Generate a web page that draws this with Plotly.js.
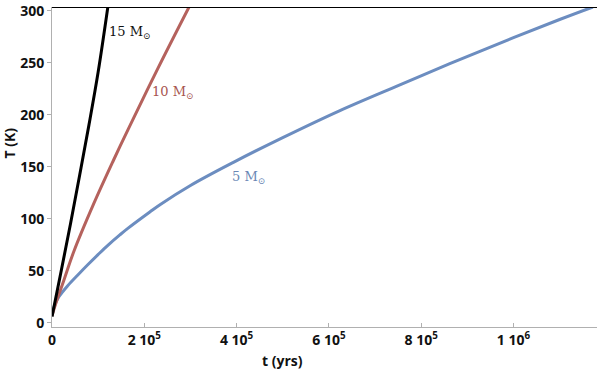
<!DOCTYPE html>
<html><head><meta charset="utf-8">
<script src="https://cdn.plot.ly/plotly-3.0.1.min.js"></script>
<style>html,body{margin:0;padding:0;background:#fff}#chart{width:600px;height:374px}</style>
</head><body><div id="chart"></div>
<script>
// 15 solar masses
const t15 = [0, 20000, 40000, 60000, 80000, 100000, 121000];
const T15 = [6, 50, 95, 142, 190, 241, 303.5];
// 10 solar masses
const t10 = [0, 10000, 25000, 47700, 90000, 133000, 165000, 230000, 297000];
const T10 = [7, 21, 40, 69, 114, 156, 186, 245, 303.5];
// 5 solar masses
const t5 = [0, 5000, 15000, 34700, 56000, 78000, 99700, 121000, 147000, 165000, 212000, 234000, 300000, 392000, 500000, 624000, 750000, 862000, 1000000, 1100000, 1172000];
const T5 = [7, 16, 25, 36, 46, 56, 65.5, 74.5, 84.5, 91, 106.5, 113.5, 132, 154, 178, 204, 228, 249, 274, 291.5, 303.5];

const xTickVals = [0, 200000, 400000, 600000, 800000, 1000000];
const xTickText = ['0', '2 10<sup>5</sup>', '4 10<sup>5</sup>', '6 10<sup>5</sup>', '8 10<sup>5</sup>', '1 10<sup>6</sup>'];
const yTickVals = [0, 50, 100, 150, 200, 250, 300];

const labels = [
  {text: '15 M<sub>⊙</sub>', t: 119000, T: 279, color: '#111111'},
  {text: '10 M<sub>⊙</sub>', t: 212000, T: 221, color: '#a85550'},
  {text: '5 M<sub>⊙</sub>', t: 386000, T: 140, color: '#6a87b5'}
];

const traces = [
  {x: t5, y: T5, mode: 'lines', line: {color: '#6c8dc0', width: 3, shape: 'spline', smoothing: 1}},
  {x: t10, y: T10, mode: 'lines', line: {color: '#b5625d', width: 3, shape: 'spline', smoothing: 1}},
  {x: t15, y: T15, mode: 'lines', line: {color: '#000000', width: 3, shape: 'spline', smoothing: 1}}
];

const tickFont = {family: 'Open Sans, sans-serif', size: 14, color: '#111', weight: 700};

const annotations = labels.map(l => ({
  x: l.t, y: l.T, xref: 'x', yref: 'y', text: l.text, showarrow: false,
  xanchor: 'left', yanchor: 'middle',
  font: {family: 'DejaVu Serif, serif', size: 13, color: l.color}
}));
annotations.push({xref: 'paper', yref: 'paper', x: 0.423, y: -0.07, text: 't (yrs)', showarrow: false,
  yanchor: 'top', font: {family: 'Open Sans, sans-serif', size: 14, color: '#111', weight: 700}});
annotations.push({xref: 'paper', yref: 'paper', x: -0.078, y: 0.575, text: 'T (K)', showarrow: false,
  textangle: -90, xanchor: 'center', yanchor: 'middle', font: {family: 'Open Sans, sans-serif', size: 14, color: '#111', weight: 700}});

const layout = {
  width: 600, height: 374,
  margin: {l: 52, r: 3, t: 7, b: 47},
  paper_bgcolor: '#fff', plot_bgcolor: '#fff',
  showlegend: false,
  xaxis: {range: [0, 1181000], tickvals: xTickVals, ticktext: xTickText, showgrid: false, zeroline: false,
    showline: true, linecolor: '#b0b0b0', linewidth: 1, ticks: 'inside', ticklen: 4, tickcolor: '#b0b0b0',
    tickfont: tickFont, ticklabelstandoff: 0},
  yaxis: {range: [-4, 303.5], tickvals: yTickVals, showgrid: false, zeroline: false,
    showline: true, linecolor: '#b0b0b0', linewidth: 1, ticks: 'outside', ticklen: 4, tickcolor: '#b0b0b0',
    tickfont: tickFont, ticklabeloverflow: 'allow'},
  shapes: [{type: 'line', xref: 'paper', yref: 'paper', x0: 0, x1: 1, y0: 1 - 0.5 / 320, y1: 1 - 0.5 / 320, line: {color: '#000', width: 1}}],
  annotations: annotations
};

Plotly.newPlot('chart', traces, layout, {displayModeBar: false, staticPlot: true});
</script></body></html>
